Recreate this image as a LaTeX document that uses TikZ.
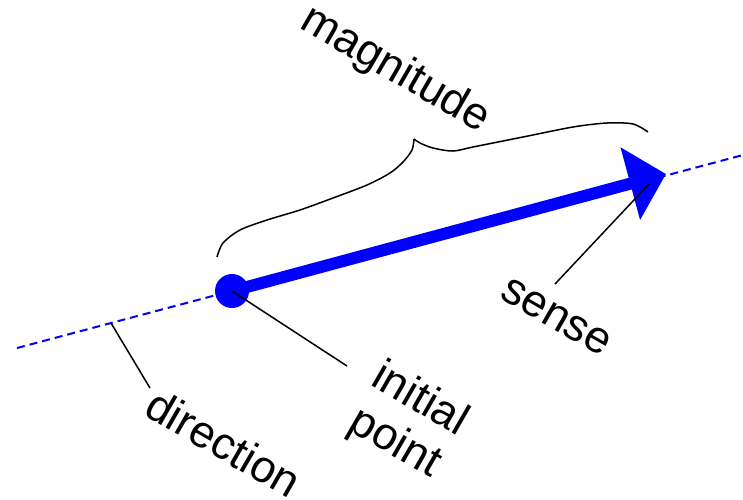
\documentclass[tikz,border=0pt]{standalone}
\usepackage{fontspec}
\setmainfont{Liberation Sans}
\usetikzlibrary{arrows.meta}
\begin{document}
\begin{tikzpicture}[x=1pt,y=-1pt,
  lbl/.style={font=\fontsize{45}{50}\selectfont, inner sep=0pt, rotate=-30, align=center},
  leader/.style={draw=black, line width=1.5pt},
  axisline/.style={draw=blue, line width=2pt, dash pattern=on 8pt off 5pt},
  vec/.style={draw=blue, line width=12pt, -{Triangle[length=37pt,width=73pt]}},
  bracestyle/.style={draw=black, line width=1.5pt}]
\useasboundingbox (0,0) rectangle (743,499);
% direction line
\coordinate (dl) at (17,348);
\coordinate (dr) at (743,155);
\draw[axisline] (dl) -- (dr);
% vector
\coordinate (tip) at (666,174);
\node[circle, fill=blue, minimum size=34pt, inner sep=0pt] (ip) at (232,291) {};
\draw[vec] (ip.center) -- (tip);
% brace
\draw[bracestyle] plot[smooth, tension=0.5] coordinates {(217,257) (223,243) (240,230) (267,220) (300,210) (333,198) (367,185) (390,173) (403,162) (412,150) (414,139)};
\draw[bracestyle] plot[smooth, tension=0.5] coordinates {(414,139) (420,143) (433,148) (453,151) (473,147) (523,137) (573,127) (607,123) (633,124) (648,132)};
% labels
\node[lbl] (mag) at (395,70) {magnitude};
\node[lbl] (dir) at (224,443) {direction};
\node[lbl] (sen) at (556,317) {sense};
\node[lbl] (ini) at (407,422) {initial\\point};
% leaders
\coordinate (dtick) at (111,323);
\coordinate (dend) at (150,388);
\draw[leader] (dtick) -- (dend);
\coordinate (iend) at (347,366);
\draw[leader] (ip.center) -- (iend);
\coordinate (sin) at (649,184);
\coordinate (send) at (555,284);
\draw[leader] (sin) -- (send);
\end{tikzpicture}
\end{document}
